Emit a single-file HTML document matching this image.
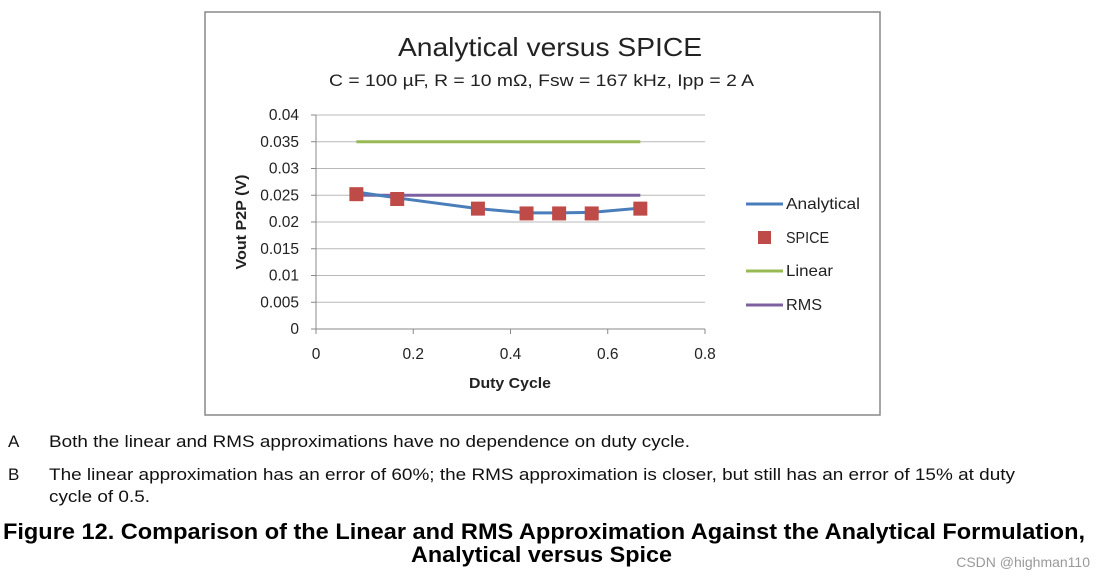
<!DOCTYPE html>
<html><head><meta charset="utf-8"><style>
html,body{margin:0;padding:0;background:#fff;}
svg{display:block;font-family:"Liberation Sans",sans-serif;}
</style></head><body>
<svg id="chart" width="1100" height="578" viewBox="0 0 1100 578">
<rect x="205" y="12" width="675" height="403" fill="#fff" stroke="#888" stroke-width="1.5"/>
<text x="398" y="56" font-size="26" textLength="304" lengthAdjust="spacingAndGlyphs" fill="#222">Analytical versus SPICE</text>
<text x="329" y="86" font-size="17" textLength="425" lengthAdjust="spacingAndGlyphs" fill="#222">C = 100 µF, R = 10 mΩ, Fsw = 167 kHz, Ipp = 2 A</text>
<g id="grid"></g>
<g id="axes"></g>
<g id="series"></g>
<text transform="translate(246,222) rotate(-90)" font-size="15" font-weight="bold" text-anchor="middle" textLength="95" lengthAdjust="spacingAndGlyphs" fill="#222">Vout P2P (V)</text>
<text x="469" y="388" font-size="15" font-weight="bold" textLength="82" lengthAdjust="spacingAndGlyphs" fill="#222">Duty Cycle</text>
<g font-size="16" fill="#222">
<g><line x1="746" y1="204" x2="783" y2="204" stroke="#4a7ebb" stroke-width="3"/><text x="786" y="209" textLength="74" lengthAdjust="spacingAndGlyphs">Analytical</text></g>
<g><rect x="758" y="231" width="13" height="13" fill="#be4b48"/><text x="786" y="243" textLength="43" lengthAdjust="spacingAndGlyphs">SPICE</text></g>
<g><line x1="746" y1="271" x2="783" y2="271" stroke="#98b954" stroke-width="3"/><text x="786" y="276" textLength="47" lengthAdjust="spacingAndGlyphs">Linear</text></g>
<g><line x1="746" y1="305" x2="783" y2="305" stroke="#7d60a0" stroke-width="3"/><text x="786" y="310" textLength="36" lengthAdjust="spacingAndGlyphs">RMS</text></g>
</g>
<g font-size="17" fill="#111">
<text x="8" y="447">A</text>
<text x="49" y="447" textLength="641" lengthAdjust="spacingAndGlyphs">Both the linear and RMS approximations have no dependence on duty cycle.</text>
<text x="8" y="480">B</text>
<text x="49" y="480" textLength="966" lengthAdjust="spacingAndGlyphs">The linear approximation has an error of 60%; the RMS approximation is closer, but still has an error of 15% at duty</text>
<text x="49" y="502" textLength="101" lengthAdjust="spacingAndGlyphs">cycle of 0.5.</text>
</g>
<text x="3" y="539" font-size="22" font-weight="bold" textLength="1082" lengthAdjust="spacingAndGlyphs" fill="#000">Figure 12. Comparison of the Linear and RMS Approximation Against the Analytical Formulation,</text>
<text x="411" y="562" font-size="22" font-weight="bold" textLength="261" lengthAdjust="spacingAndGlyphs" fill="#000">Analytical versus Spice</text>
<text x="1090" y="567" font-size="14" text-anchor="end" fill="#999">CSDN @highman110</text>
</svg>
<script>
const xValues=[0.083,0.167,0.333,0.433,0.5,0.567,0.667];
const analytical=[0.0256,0.0245,0.0225,0.0217,0.0217,0.0218,0.0226];
const spice=[0.0252,0.0243,0.0225,0.0216,0.0216,0.0216,0.0225];
const linearVals=[0.035,0.035];
const rmsVals=[0.025,0.025];
const flatX=[0.083,0.667];
const yTicks=[0,0.005,0.01,0.015,0.02,0.025,0.03,0.035,0.04];
const yTickLabels=["0","0.005","0.01","0.015","0.02","0.025","0.03","0.035","0.04"];
const xTicks=[0,0.2,0.4,0.6,0.8];
const xTickLabels=["0","0.2","0.4","0.6","0.8"];
const NS="http://www.w3.org/2000/svg";
const X=v=>316+(v/0.8)*(705-316);
const Y=v=>329-(v/0.04)*(329-115);
function mk(t,a,p){const e=document.createElementNS(NS,t);for(const k in a)e.setAttribute(k,a[k]);p.appendChild(e);return e;}
const grid=document.getElementById('grid'),axes=document.getElementById('axes'),series=document.getElementById('series');
yTicks.forEach((v,i)=>{
 if(i>0){const l=mk('line',{x1:316,x2:705,y1:Y(v),y2:Y(v),stroke:'#b8b8b8','stroke-width':1},grid);
 
 }
 const tk=mk('line',{x1:311,x2:316,y1:Y(v),y2:Y(v),stroke:'#888'},axes);
 
 
 const t=mk('text',{x:299,y:Y(v)+5,'font-size':15.5,'text-anchor':'end',fill:'#222'},axes);t.textContent=yTickLabels[i];
 
 
});
const ya=mk('line',{x1:316,x2:316,y1:115,y2:329,stroke:'#888'},axes);


const xa=mk('line',{x1:316,x2:705,y1:329,y2:329,stroke:'#888'},axes);


xTicks.forEach((v,i)=>{
 const tk=mk('line',{x1:X(v),x2:X(v),y1:329,y2:334,stroke:'#888'},axes);
 
 
 const t=mk('text',{x:X(v),y:359,'font-size':15.5,'text-anchor':'middle',fill:'#222'},axes);t.textContent=xTickLabels[i];
 
 
});
function poly(xs,ys,c,name){
 const p=mk('polyline',{points:xs.map((x,i)=>X(x)+','+Y(ys[i])).join(' '),fill:'none',stroke:c,'stroke-width':3,'stroke-linejoin':'round'},series);
 
 
}
poly(flatX,linearVals,'#98b954','linear-line');
poly(flatX,rmsVals,'#7d60a0','rms-line');
poly(xValues,analytical,'#4a7ebb','analytical-line');
xValues.forEach((x,i)=>{
 const r=mk('rect',{x:X(x)-7,y:Y(spice[i])-7,width:14,height:14,fill:'#be4b48'},series);
 
 
});
</script>
</body></html>
